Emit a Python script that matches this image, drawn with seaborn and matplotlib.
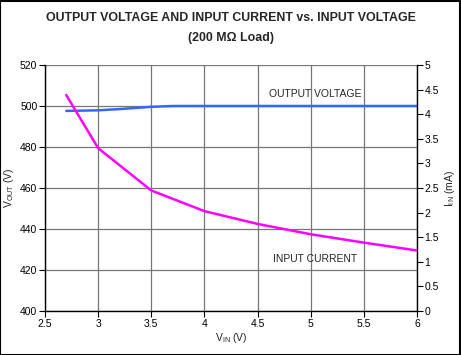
import matplotlib
matplotlib.use("Agg")
import matplotlib.pyplot as plt
import seaborn as sns
import pandas as pd

vin_out = [2.7, 3.0, 3.2, 3.5, 3.7, 4.0, 4.5, 5.0, 5.5, 6.0]
vout = [497.6, 497.9, 498.5, 499.6, 500.0, 500.0, 500.0, 500.0, 500.0, 500.0]
vin_cur = [2.7, 3.0, 3.5, 4.0, 4.5, 5.0, 5.5, 6.0]
iin = [4.39, 3.31, 2.45, 2.03, 1.77, 1.56, 1.39, 1.23]
xticks = [2.5, 3, 3.5, 4, 4.5, 5, 5.5, 6]
yticks_left = [400, 420, 440, 460, 480, 500, 520]
yticks_right = [0, 0.5, 1, 1.5, 2, 2.5, 3, 3.5, 4, 4.5, 5]

sns.set_style("white")
plt.rcParams['font.family'] = ['Liberation Sans', 'DejaVu Sans']

fig = plt.figure(figsize=(4.61, 3.55), dpi=100)
ax = fig.add_axes([0.0976, 0.1239, 0.8070, 0.6930])
ax2 = ax.twinx()

df1 = pd.DataFrame({"vin": vin_out, "vout": vout})
df2 = pd.DataFrame({"vin": vin_cur, "iin": iin})

sns.lineplot(data=df1, x="vin", y="vout", ax=ax, color="#3366ff", linewidth=1.8, zorder=3)
sns.lineplot(data=df2, x="vin", y="iin", ax=ax2, color="#ff00ff", linewidth=1.8, zorder=3)

ax.set_xlim(2.5, 6)
ax.set_ylim(400, 520)
ax2.set_ylim(0, 5)
ax.set_xticks(xticks)
ax.set_xticklabels([f"{t:g}" for t in xticks])
ax.set_yticks(yticks_left)
ax2.set_yticks(yticks_right)
ax2.set_yticklabels([f"{t:g}" for t in yticks_right])

ax.grid(True, color="#777777", linewidth=0.9)
ax.set_axisbelow(True)
ax2.grid(False)

for a in (ax, ax2):
    for s in a.spines.values():
        s.set_visible(False)
ax.spines['left'].set_visible(True)
ax.spines['bottom'].set_visible(True)
ax2.spines['right'].set_visible(True)
for s in (ax.spines['left'], ax.spines['bottom'], ax2.spines['right']):
    s.set_color("black")
    s.set_linewidth(1.0)

ax.tick_params(axis='both', direction='out', length=4, width=0.8, labelsize=7.5, colors='black', pad=1.5, left=True, bottom=True)
ax2.tick_params(axis='y', direction='out', length=4, width=0.8, labelsize=7.5, colors='black', pad=1.5, right=True)

ax.set_xlabel(r"V$_{\mathregular{IN}}$ (V)", fontsize=7.5, labelpad=2)
ax.set_ylabel(r"V$_{\mathregular{OUT}}$ (V)", fontsize=7.5, labelpad=3)
ax2.set_ylabel(r"I$_{\mathregular{IN}}$ (mA)", fontsize=7.5, labelpad=3)

ax.text(5.04, 505.9, "OUTPUT VOLTAGE", fontsize=7.5, ha='center', va='center')
ax.text(5.04, 425.4, "INPUT CURRENT", fontsize=7.5, ha='center', va='center')

fig.text(0.5, 0.948, "OUTPUT VOLTAGE AND INPUT CURRENT vs. INPUT VOLTAGE", fontsize=8.9, fontweight='bold', ha='center', va='center')
fig.text(0.5, 0.892, "(200 MΩ Load)", fontsize=8.9, fontweight='bold', ha='center', va='center')

fig.patches.append(plt.Rectangle((0.001, 0.001), 0.997, 0.997, transform=fig.transFigure, fill=False, edgecolor='black', linewidth=1.5))

fig.savefig("out.png", dpi=100)
